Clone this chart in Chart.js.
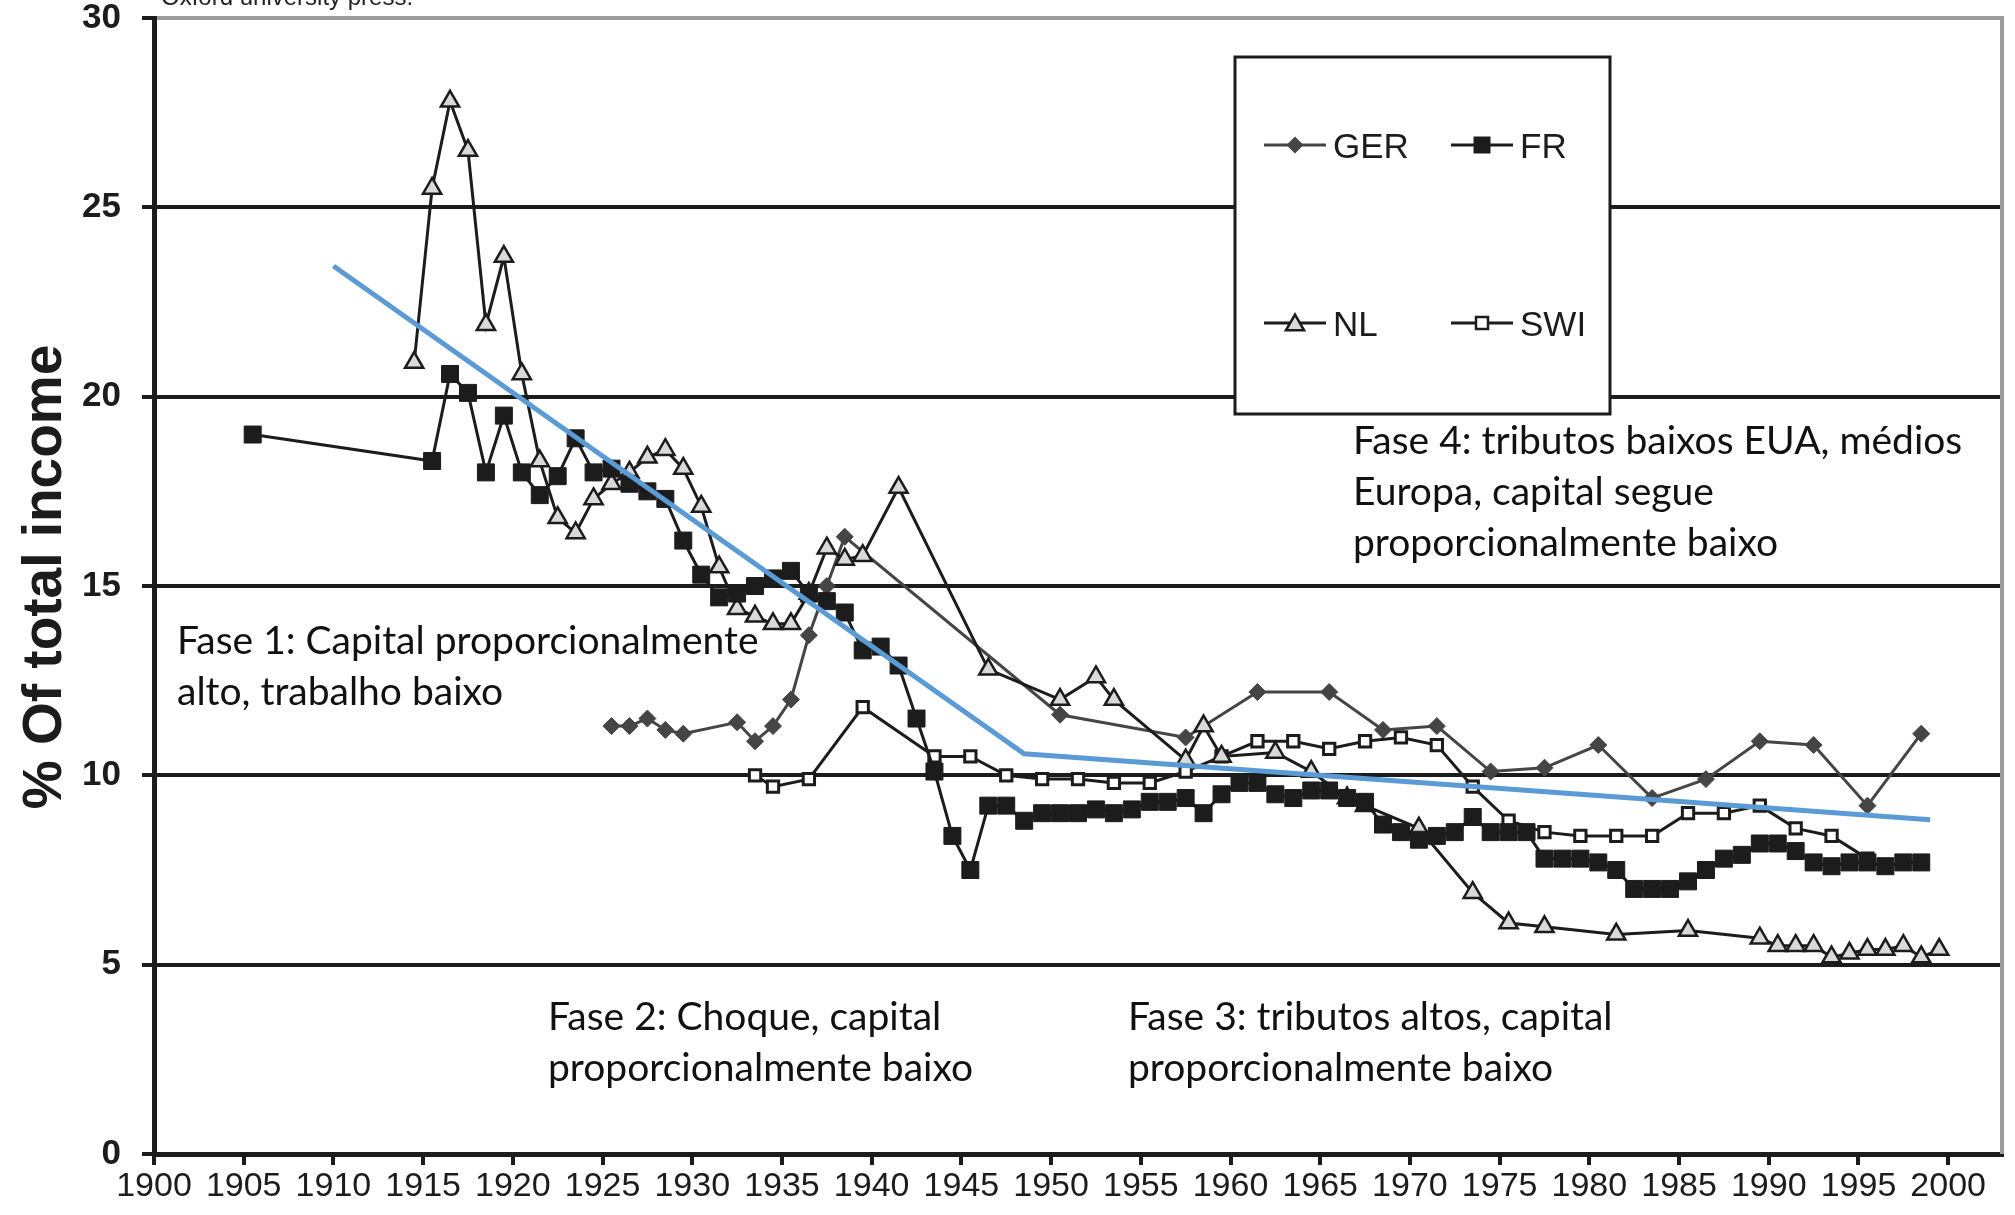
<!DOCTYPE html>
<html>
<head>
<meta charset="utf-8">
<title>% Of total income</title>
<script src="https://cdn.jsdelivr.net/npm/chart.js@4.4.1/dist/chart.umd.min.js"></script>
<style>
  html, body { margin: 0; padding: 0; background: #fff; }
  #chart { display: block; }
</style>
</head>
<body>
<canvas id="chart" width="2015" height="1215"></canvas>
<script>
// share of total income (%)
const gerYears = [1925, 1926, 1927, 1928, 1929, 1932, 1933, 1934, 1935, 1936, 1937, 1938,
    1950, 1957, 1961, 1965, 1968, 1971, 1974, 1977, 1980, 1983, 1986, 1989, 1992, 1995, 1998];
const gerShare = [11.3, 11.3, 11.5, 11.2, 11.1, 11.4, 10.9, 11.3, 12.0, 13.7, 15.0, 16.3,
    11.6, 11.0, 12.2, 12.2, 11.2, 11.3, 10.1, 10.2, 10.8, 9.4, 9.9, 10.9, 10.8, 9.2, 11.1];

const frYears = [1905,
    1915, 1916, 1917, 1918, 1919, 1920, 1921, 1922, 1923, 1924,
    1925, 1926, 1927, 1928, 1929, 1930, 1931, 1932, 1933, 1934,
    1935, 1936, 1937, 1938, 1939, 1940, 1941, 1942, 1943, 1944,
    1945, 1946, 1947, 1948, 1949, 1950, 1951, 1952, 1953, 1954,
    1955, 1956, 1957, 1958, 1959, 1960, 1961, 1962, 1963, 1964,
    1965, 1966, 1967, 1968, 1969, 1970, 1971, 1972, 1973, 1974,
    1975, 1976, 1977, 1978, 1979, 1980, 1981, 1982, 1983, 1984,
    1985, 1986, 1987, 1988, 1989, 1990, 1991, 1992, 1993, 1994,
    1995, 1996, 1997, 1998];
const frShare = [19.0,
    18.3, 20.6, 20.1, 18.0, 19.5, 18.0, 17.4, 17.9, 18.9, 18.0,
    18.1, 17.7, 17.5, 17.3, 16.2, 15.3, 14.7, 14.8, 15.0, 15.2,
    15.4, 14.8, 14.6, 14.3, 13.3, 13.4, 12.9, 11.5, 10.1, 8.4,
    7.5, 9.2, 9.2, 8.8, 9.0, 9.0, 9.0, 9.1, 9.0, 9.1,
    9.3, 9.3, 9.4, 9.0, 9.5, 9.8, 9.8, 9.5, 9.4, 9.6,
    9.6, 9.4, 9.3, 8.7, 8.5, 8.3, 8.4, 8.5, 8.9, 8.5,
    8.5, 8.5, 7.8, 7.8, 7.8, 7.7, 7.5, 7.0, 7.0, 7.0,
    7.2, 7.5, 7.8, 7.9, 8.2, 8.2, 8.0, 7.7, 7.6, 7.7,
    7.7, 7.6, 7.7, 7.7];

const nlYears = [1914, 1915, 1916, 1917, 1918, 1919, 1920, 1921, 1922, 1923, 1924,
    1925, 1926, 1927, 1928, 1929, 1930, 1931, 1932, 1933, 1934, 1935, 1936, 1937, 1938, 1939,
    1941, 1946, 1950, 1952, 1953, 1957, 1958, 1959, 1962, 1964, 1966, 1967, 1970,
    1973, 1975, 1977, 1981, 1985, 1989, 1990, 1991, 1992, 1993, 1994, 1995, 1996, 1997, 1998, 1999];
const nlShare = [20.9, 25.5, 27.8, 26.5, 21.9, 23.7, 20.6, 18.3, 16.8, 16.4, 17.3,
    17.7, 18.0, 18.4, 18.6, 18.1, 17.1, 15.5, 14.4, 14.2, 14.0, 14.0, 14.8, 16.0, 15.7, 15.8,
    17.6, 12.8, 12.0, 12.6, 12.0, 10.4, 11.3, 10.5, 10.6, 10.1, 9.4, 9.2, 8.6,
    6.9, 6.1, 6.0, 5.8, 5.9, 5.7, 5.5, 5.5, 5.5, 5.2, 5.3, 5.4, 5.4, 5.5, 5.2, 5.4];

const swiYears = [1933, 1934, 1936, 1939, 1943, 1945, 1947, 1949, 1951, 1953, 1955, 1957,
    1959, 1961, 1963, 1965, 1967, 1969, 1971, 1973, 1975, 1977, 1979, 1981, 1983, 1985,
    1987, 1989, 1991, 1993, 1995];
const swiShare = [10.0, 9.7, 9.9, 11.8, 10.5, 10.5, 10.0, 9.9, 9.9, 9.8, 9.8, 10.1,
    10.5, 10.9, 10.9, 10.7, 10.9, 11.0, 10.8, 9.7, 8.8, 8.5, 8.4, 8.4, 8.4, 9.0,
    9.0, 9.2, 8.6, 8.4, 7.8];

// blue trend drawn over the figure (break points as placed on the axis)
const trendYears = [1910, 1948.5, 1999];
const trendShare = [23.45, 10.57, 8.83];

const xTicks = [1900, 1905, 1910, 1915, 1920, 1925, 1930, 1935, 1940, 1945, 1950,
    1955, 1960, 1965, 1970, 1975, 1980, 1985, 1990, 1995, 2000];
const yTicks = [0, 5, 10, 15, 20, 25, 30];

const seriesNames = ['GER', 'FR', 'NL', 'SWI'];

// yearly observations are plotted in the middle of their year
const MID_YEAR = 0.5;
const toPoints = (years, values, shift) => years.map((yr, i) => ({ x: yr + shift, y: values[i] }));

const INK = '#1c1c1c';
const GER_GREY = '#454545';
const TEXT_FONT = 'Lato, "Open Sans", sans-serif';

const phaseNotes = [
    { x: 177, y: 654, lines: ['Fase 1: Capital proporcionalmente', 'alto, trabalho baixo'] },
    { x: 548, y: 1030, lines: ['Fase 2: Choque, capital', 'proporcionalmente baixo'] },
    { x: 1128, y: 1030, lines: ['Fase 3: tributos altos, capital', 'proporcionalmente baixo'] },
    { x: 1353, y: 454, lines: ['Fase 4: tributos baixos EUA, médios', 'Europa, capital segue', 'proporcionalmente baixo'] }
];

function drawMarker(ctx, style, x, y, r) {
    ctx.beginPath();
    if (style === 'diamond') {
        ctx.moveTo(x - r, y); ctx.lineTo(x, y - r); ctx.lineTo(x + r, y); ctx.lineTo(x, y + r);
    } else if (style === 'triangle') {
        ctx.moveTo(x, y - r);
        ctx.lineTo(x + r * 0.866, y + r * 0.5);
        ctx.lineTo(x - r * 0.866, y + r * 0.5);
    } else {
        ctx.rect(x - r, y - r, 2 * r, 2 * r);
    }
    ctx.closePath();
}

const framePlugin = {
    id: 'frame',
    beforeDatasetsDraw(chart) {
        const { ctx, chartArea } = chart;
        ctx.save();
        ctx.strokeStyle = '#9c9c9c';
        ctx.lineWidth = 4;
        ctx.beginPath();
        ctx.moveTo(chartArea.right, chartArea.top - 2);
        ctx.lineTo(chartArea.right, chartArea.bottom);
        ctx.stroke();
        ctx.restore();
    }
};

const notesPlugin = {
    id: 'notes',
    afterDatasetsDraw(chart) {
        const ctx = chart.ctx;
        ctx.save();
        ctx.fillStyle = '#111';
        ctx.textAlign = 'left';
        ctx.textBaseline = 'alphabetic';
        ctx.font = '39px ' + TEXT_FONT;
        phaseNotes.forEach(note => {
            note.lines.forEach((line, i) => ctx.fillText(line, note.x, note.y + i * 51));
        });

        // cut-off source line at the very top
        ctx.font = '24px "Liberation Sans", Arial, sans-serif';
        ctx.fillStyle = '#222';
        ctx.fillText('Oxford university press.', 161, 5);

        // legend box
        const box = { left: 1235, top: 57, right: 1610, bottom: 414 };
        ctx.fillStyle = '#fff';
        ctx.fillRect(box.left, box.top, box.right - box.left, box.bottom - box.top);
        ctx.strokeStyle = INK;
        ctx.lineWidth = 3;
        ctx.strokeRect(box.left, box.top, box.right - box.left, box.bottom - box.top);

        const items = [
            { x: 1264, y: 145, line: GER_GREY, style: 'diamond', r: 8.5, fill: GER_GREY, stroke: null },
            { x: 1451, y: 145, line: INK, style: 'square', r: 8.5, fill: INK, stroke: null },
            { x: 1264, y: 323, line: INK, style: 'triangle', r: 10.5, fill: '#d9d9d9', stroke: INK },
            { x: 1451, y: 323, line: INK, style: 'square', r: 6, fill: '#fff', stroke: INK }
        ];
        ctx.font = '35px "Liberation Sans", Arial, sans-serif';
        items.forEach((it, i) => {
            ctx.strokeStyle = it.line;
            ctx.lineWidth = 3;
            ctx.beginPath();
            ctx.moveTo(it.x, it.y);
            ctx.lineTo(it.x + 62, it.y);
            ctx.stroke();
            drawMarker(ctx, it.style, it.x + 31, it.y + (it.style === 'triangle' ? 2 : 0), it.r);
            ctx.fillStyle = it.fill;
            ctx.fill();
            if (it.stroke) {
                ctx.strokeStyle = it.stroke;
                ctx.lineWidth = 2.5;
                ctx.stroke();
            }
            ctx.fillStyle = INK;
            ctx.fillText(seriesNames[i], it.x + 69, it.y + 13);
        });
        ctx.restore();
    },
    afterDraw(chart) {
        const ctx = chart.ctx;
        ctx.save();
        ctx.translate(61, 577);
        ctx.rotate(-Math.PI / 2);
        ctx.font = 'bold 55px "Liberation Sans", Arial, sans-serif';
        ctx.fillStyle = INK;
        ctx.textAlign = 'center';
        ctx.textBaseline = 'alphabetic';
        ctx.fillText('% Of total income', 0, 0);
        ctx.restore();
    }
};

Chart.defaults.font.family = '"Liberation Sans", Arial, sans-serif';
Chart.defaults.color = INK;

new Chart(document.getElementById('chart').getContext('2d'), {
    type: 'line',
    data: {
        datasets: [
            {
                label: 'trend',
                data: toPoints(trendYears, trendShare, 0),
                borderColor: '#5b9bd5',
                borderWidth: 5,
                pointRadius: 0,
                order: 0
            },
            {
                label: 'FR',
                data: toPoints(frYears, frShare, MID_YEAR),
                borderColor: INK,
                borderWidth: 3,
                pointStyle: 'rect',
                pointRadius: 12,
                pointBackgroundColor: INK,
                pointBorderColor: INK,
                pointBorderWidth: 1,
                order: 1
            },
            {
                label: 'NL',
                data: toPoints(nlYears, nlShare, MID_YEAR),
                borderColor: INK,
                borderWidth: 3,
                pointStyle: 'triangle',
                pointRadius: 10.5,
                pointBackgroundColor: '#d9d9d9',
                pointBorderColor: INK,
                pointBorderWidth: 2.5,
                order: 2
            },
            {
                label: 'SWI',
                data: toPoints(swiYears, swiShare, MID_YEAR),
                borderColor: INK,
                borderWidth: 3,
                pointStyle: 'rect',
                pointRadius: 8,
                pointBackgroundColor: '#fff',
                pointBorderColor: INK,
                pointBorderWidth: 3,
                order: 3
            },
            {
                label: 'GER',
                data: toPoints(gerYears, gerShare, MID_YEAR),
                borderColor: GER_GREY,
                borderWidth: 3,
                pointStyle: 'rectRot',
                pointRadius: 8.5,
                pointBackgroundColor: GER_GREY,
                pointBorderColor: GER_GREY,
                pointBorderWidth: 1,
                order: 4
            }
        ]
    },
    options: {
        responsive: false,
        animation: false,
        devicePixelRatio: 1,
        layout: { padding: { top: 18, right: 12, left: 0, bottom: 0 } },
        plugins: {
            legend: { display: false },
            tooltip: { enabled: false }
        },
        elements: { line: { tension: 0 } },
        scales: {
            x: {
                type: 'linear',
                min: 1900,
                max: 2003,
                afterBuildTicks: s => { s.ticks = xTicks.map(v => ({ value: v })); },
                afterFit: s => { s.height = 61; s.paddingLeft = 0; s.paddingRight = 0; },
                ticks: {
                    font: { size: 34 },
                    color: INK,
                    padding: 1,
                    maxRotation: 0,
                    autoSkip: false,
                    callback: v => String(v)
                },
                grid: {
                    drawOnChartArea: false,
                    drawTicks: true,
                    tickLength: 11,
                    tickWidth: 4,
                    tickColor: INK,
                    color: INK,
                    lineWidth: 4
                },
                border: { display: true, color: INK, width: 5 }
            },
            y: {
                min: 0,
                max: 30,
                afterBuildTicks: s => { s.ticks = yTicks.map(v => ({ value: v })); },
                afterFit: s => { s.width = 154; s.paddingTop = 0; s.paddingBottom = 0; },
                ticks: {
                    font: { size: 35, weight: 'bold', lineHeight: 1 },
                    color: INK,
                    padding: 21
                },
                grid: {
                    color: c => (c.tick && c.tick.value === 30 ? '#9c9c9c' : INK),
                    lineWidth: 4,
                    drawTicks: true,
                    tickLength: 12,
                    tickWidth: 4,
                    tickColor: INK
                },
                border: { display: true, color: INK, width: 5 }
            }
        }
    },
    plugins: [framePlugin, notesPlugin]
});
</script>
</body>
</html>
